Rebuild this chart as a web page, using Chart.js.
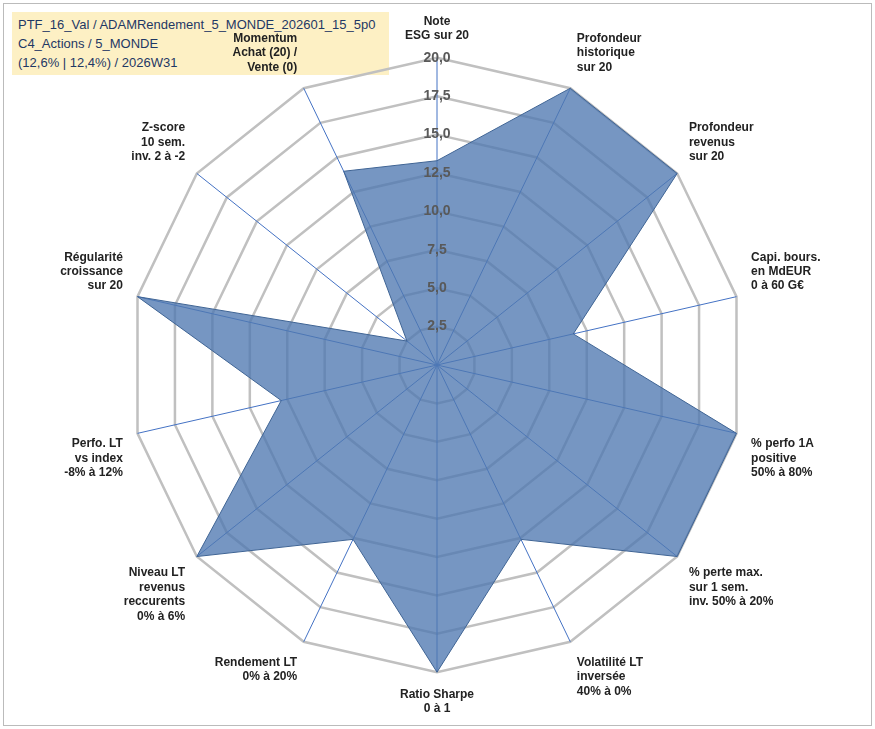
<!DOCTYPE html>
<html><head><meta charset="utf-8">
<script src="https://cdn.jsdelivr.net/npm/chart.js@4/dist/chart.umd.min.js"></script>
<style>
body{margin:0;background:#fff;font-family:"Liberation Sans",Arial,sans-serif}
#wrap{position:absolute;left:3px;top:3px;width:867px;height:721px;border:1px solid #bbb;background:#fff}
#t{position:absolute;left:8px;top:8px;background:#fdf0c4;padding:3px 14px 3px 6px;font:13px "Liberation Sans",Arial;color:#1f3864;line-height:19px;z-index:0}
#c{position:absolute;left:0;top:0;z-index:1}
</style></head><body>
<div id="wrap"><div id="t">PTF_16_Val / ADAMRendement_5_MONDE_202601_15_5p0<br>C4_Actions / 5_MONDE<br>(12,6% | 12,4%) / 2026W31</div>
<canvas id="c" width="867" height="721"></canvas></div>
<script>
const categories=[["Note","ESG sur 20"],["Profondeur","historique","sur 20"],["Profondeur","revenus","sur 20"],["Capi. bours.","en MdEUR","0 à 60 G€"],["% perfo 1A","positive","50% à 80%"],["% perte max.","sur 1 sem.","inv. 50% à 20%"],["Volatilité LT","inversée","40% à 0%"],["Ratio Sharpe","0 à 1"],["Rendement LT","0% à 20%"],["Niveau LT","revenus","reccurents","0% à 6%"],["Perfo. LT","vs index","-8% à 12%"],["Régularité","croissance","sur 20"],["Z-score","10 sem.","inv. 2 à -2"],["Momentum","Achat (20) /","Vente (0)"]];
const values=[13.3,20,20,9.1,20,20,12.6,20,12.6,20,10.4,20,2.5,14];
new Chart(document.getElementById('c'),{type:'radar',
data:{labels:categories,datasets:[{data:values,backgroundColor:'rgba(79,121,177,0.78)',borderColor:'#3f6494',borderWidth:1,pointRadius:0,fill:true}]},
options:{responsive:false,animation:false,layout:{padding:{top:10,bottom:8,left:0,right:0}},
plugins:{legend:{display:false},tooltip:{enabled:false}},
scales:{r:{min:0,max:20,
ticks:{stepSize:2.5,showLabelBackdrop:false,color:'#595959',font:{size:14,weight:'bold',family:'Liberation Sans'},callback:v=>v.toFixed(1).replace('.',','),z:1},
grid:{color:'#c0c0c0',lineWidth:2.5},
angleLines:{color:'#4472c4',lineWidth:1},
pointLabels:{color:'#222',font:{size:12,weight:'bold',family:'Liberation Sans'},padding:6}}}}});
</script></body></html>
